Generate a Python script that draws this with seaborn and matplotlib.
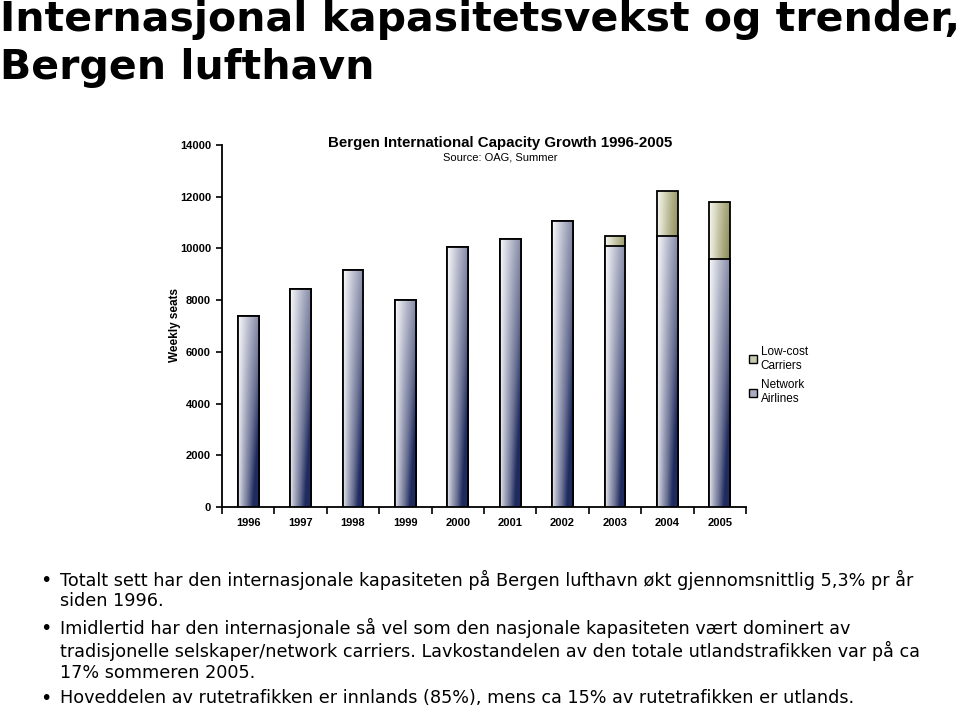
import numpy as np
import pandas as pd
import matplotlib
matplotlib.use("Agg")
import matplotlib.pyplot as plt
import seaborn as sns
from matplotlib.colors import LinearSegmentedColormap
from matplotlib.patches import Patch

# ---------------- data ----------------
years = ['1996', '1997', '1998', '1999', '2000', '2001', '2002', '2003', '2004', '2005']
network = [7400, 8450, 9160, 8000, 10060, 10370, 11070, 10100, 10490, 9580]
lowcost = [0, 0, 0, 0, 0, 0, 0, 370, 1720, 2210]
yticks = [0, 2000, 4000, 6000, 8000, 10000, 12000, 14000]

main_title = ["Internasjonal kapasitetsvekst og trender,", "Bergen lufthavn"]
chart_title = "Bergen International Capacity Growth 1996-2005"
chart_sub = "Source: OAG, Summer"
ylabel = "Weekly seats"
legend_labels = ["Low-cost\nCarriers", "Network\nAirlines"]
bullets = [
    ["Totalt sett har den internasjonale kapasiteten på Bergen lufthavn økt gjennomsnittlig 5,3% pr år",
     "siden 1996."],
    ["Imidlertid har den internasjonale så vel som den nasjonale kapasiteten vært dominert av",
     "tradisjonelle selskaper/network carriers. Lavkostandelen av den totale utlandstrafikken var på ca",
     "17% sommeren 2005."],
    ["Hoveddelen av rutetrafikken er innlands (85%), mens ca 15% av rutetrafikken er utlands."],
]

total = [n + l for n, l in zip(network, lowcost)]
df = pd.DataFrame({"year": years, "network": network, "total": total})

# ---------------- style ----------------
sns.set_theme(style="white")
plt.rcParams['font.family'] = ['Liberation Sans', 'DejaVu Sans']
plt.rcParams['text.color'] = 'black'
plt.rcParams['axes.labelcolor'] = 'black'
plt.rcParams['xtick.color'] = 'black'
plt.rcParams['ytick.color'] = 'black'

fig = plt.figure(figsize=(9.6, 7.1), dpi=100)
ax = fig.add_axes([222 / 960, 1 - 507 / 710, 524 / 960, 362 / 710])

sns.barplot(data=df, x="year", y="total", color="#7a7a3c", width=0.4,
            edgecolor="black", linewidth=1.3, saturation=1, ax=ax)
n_low = len(ax.patches)
sns.barplot(data=df, x="year", y="network", color="#2a3566", width=0.4,
            edgecolor="black", linewidth=1.3, saturation=1, ax=ax)

cmap_net = LinearSegmentedColormap.from_list("net", ["#ffffff", "#d6d8e2", "#a2a6bc", "#6a7193", "#1f2b5e"])
cmap_low = LinearSegmentedColormap.from_list("low", ["#fbfbf6", "#dcdcc8", "#b0b088", "#878752", "#5c5c20"])

n = 80
u = np.linspace(0, 1, n)[None, :]
v = np.linspace(0, 1, n)[:, None]
grad = np.clip(u ** 0.75 * (0.62 + 0.5 * v) + 0.12 * v, 0, 1)

for i, p in enumerate(ax.patches):
    x0, y0 = p.get_x(), p.get_y()
    w, h = p.get_width(), p.get_height()
    if h <= 0:
        continue
    is_low = i < n_low
    base_z = 2 if is_low else 3
    im = ax.imshow(grad, extent=[x0, x0 + w, y0, y0 + h], origin="upper",
                   aspect="auto", cmap=cmap_low if is_low else cmap_net,
                   vmin=0, vmax=1, interpolation="bilinear", zorder=base_z)
    im.set_clip_path(p)
    p.set_facecolor("none")
    p.set_zorder(base_z + 0.5)

ax.set_xlim(-0.5, len(years) - 0.5)
ax.set_ylim(0, 14000)
ax.set_yticks(yticks)
ax.set_yticklabels([str(t) for t in yticks], fontsize=8, fontweight="bold")
ax.set_xticks(range(len(years)))
ax.set_xticklabels(years, fontsize=8, fontweight="bold")
ax.set_xticks(np.arange(-0.5, len(years), 1.0), minor=True)
ax.tick_params(axis="x", which="major", length=0, pad=8, colors="black")
ax.tick_params(axis="x", which="minor", length=5, width=1.2, direction="out", color="black", bottom=True)
ax.tick_params(axis="y", which="major", length=4, width=1.2, direction="out", pad=4, color="black", left=True)
ax.set_xlabel("")
ax.set_ylabel(ylabel, fontsize=8.5, fontweight="bold")
ax.yaxis.set_label_coords(-0.079, 0.503)
for s in ["top", "right"]:
    ax.spines[s].set_visible(False)
for s in ["left", "bottom"]:
    ax.spines[s].set_color("black")
    ax.spines[s].set_linewidth(1.3)
ax.set_facecolor("white")

# chart titles
fig.text(500 / 960, 1 - 143 / 710, chart_title, ha="center", va="center", fontsize=10.8, fontweight="bold")
fig.text(500 / 960, 1 - 158 / 710, chart_sub, ha="center", va="center", fontsize=8)

# legend
handles = [Patch(facecolor="#c9c9ad", edgecolor="black", linewidth=1.0),
           Patch(facecolor="#a9adbf", edgecolor="black", linewidth=1.0)]
fig.legend(handles, legend_labels, loc="upper left", bbox_to_anchor=(749 / 960, 1 - 346 / 710),
           frameon=False, fontsize=8.5, handlelength=0.7, handleheight=0.7,
           handletextpad=0.3, labelspacing=0.65, borderaxespad=0, borderpad=0)

# main title
fig.text(0.0, 1 - 20 / 710, main_title[0], ha="left", va="center", fontsize=29.5,
         fontweight="bold", family=["DejaVu Sans"])
fig.text(0.0, 1 - 68 / 710, main_title[1], ha="left", va="center", fontsize=29.5,
         fontweight="bold", family=["DejaVu Sans"])

# bullets
line_y = [[580, 601], [628, 651, 673], [698]]
for blines, ys in zip(bullets, line_y):
    fig.text(46 / 960, 1 - ys[0] / 710, "•", ha="center", va="center", fontsize=14,
             family=["DejaVu Sans"])
    for txt, yy in zip(blines, ys):
        fig.text(60 / 960, 1 - yy / 710, txt, ha="left", va="center", fontsize=12.7,
                 family=["DejaVu Sans"])

fig.savefig("out.png", dpi=100, facecolor="white")
